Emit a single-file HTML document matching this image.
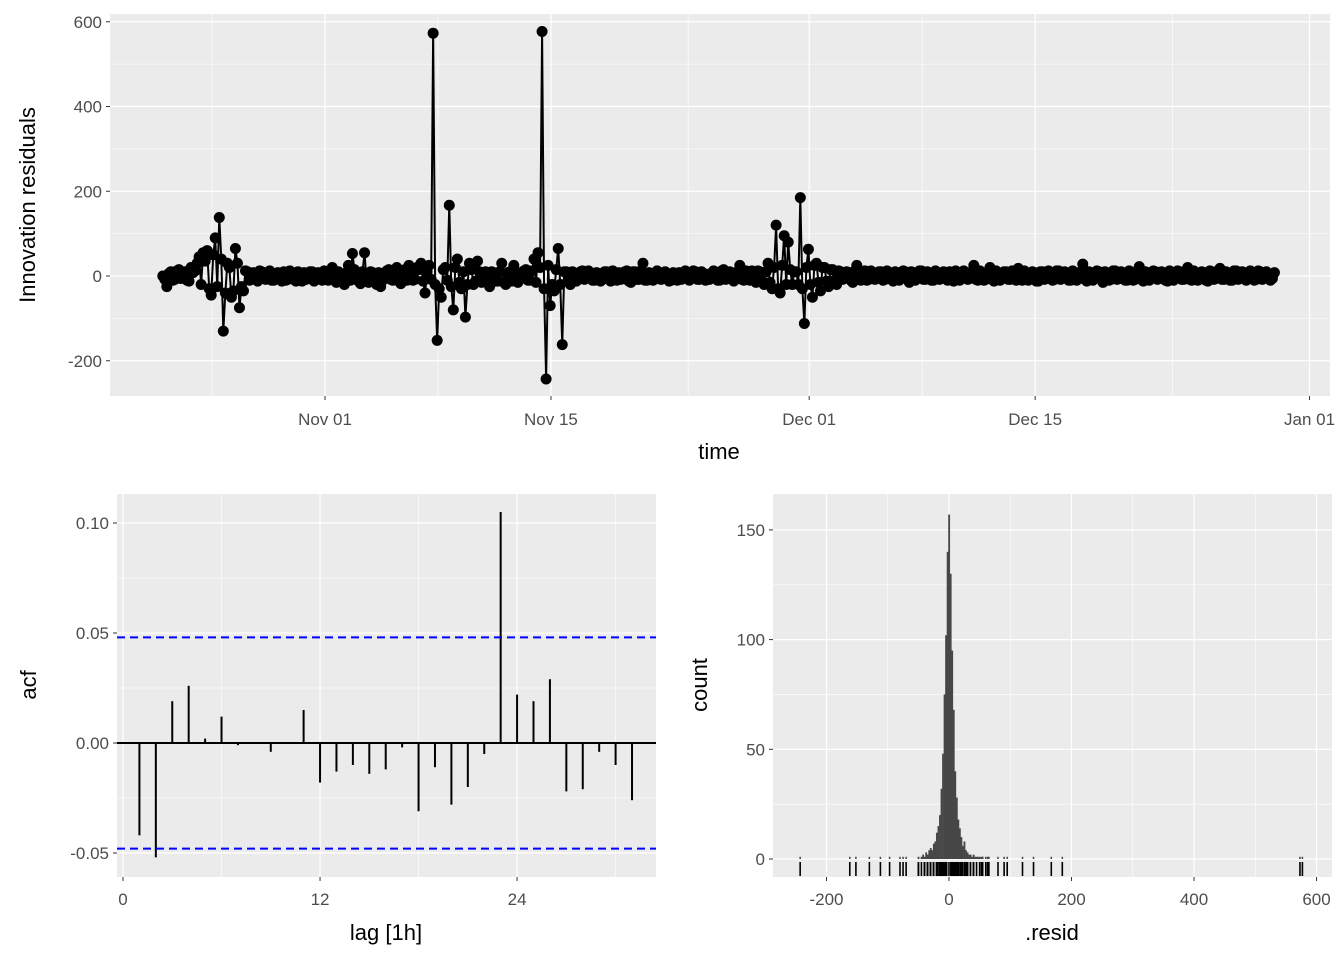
<!DOCTYPE html>
<html><head><meta charset="utf-8"><style>
body{margin:0;background:#fff}
svg text{font-family:"Liberation Sans",Arial,sans-serif}
.tick{font-size:17px;fill:#4D4D4D}
.title{font-size:22px;fill:#000}
</style></head><body>
<svg id="s" width="1344" height="960" xmlns="http://www.w3.org/2000/svg"></svg>
<script>
const resid = [
0,-25,10,-8,15,5,-10,20,12,45,
55,60,-45,90,138,-130,30,-50,65,-75,
-35,10,5,-8,12,-5,8,-10,5,-6,
10,-8,6,-12,5,8,-6,10,-5,3,
12,-10,20,-15,5,-20,25,53,10,-18,
55,-15,8,-20,-25,-5,15,-10,20,-18,
15,25,-10,20,30,-40,25,573,-152,-50,
20,167,-80,40,-30,-97,30,-20,35,-15,
10,-25,8,-12,30,-20,10,25,-15,5,
15,-10,40,55,577,-243,-70,-35,65,-162,
10,-20,5,-8,12,-5,8,-10,6,-4,
10,-12,5,8,-6,12,-15,10,-8,30,
-10,5,-7,8,-5,6,-10,4,8,-6,
5,-4,10,-8,6,4,-5,8,-10,15,
-6,8,-5,25,-10,5,12,-15,10,-20,
30,-30,120,-40,95,80,-20,10,185,-112,
63,-50,30,-35,20,-25,15,-20,10,-5,
8,-15,25,-10,12,-8,5,-6,10,-8,
6,-12,8,-5,10,-15,6,-4,12,-8,
5,-10,8,-6,4,10,-12,6,-5,8,
-6,25,-10,6,-8,20,-12,5,-6,10,
-8,4,18,-10,6,-5,8,-12,10,-6,
5,-8,12,-4,6,-10,8,-5,28,-12,
8,-6,10,-15,5,-8,12,-6,4,-10,
6,-8,22,-12,8,-5,10,-6,4,-12,
8,-5,10,-8,20,-10,6,-4,8,-12,
10,-6,18,-8,5,-10,12,-6,8,-4,
6,-8,10,-5,4,-6
];
const residMid = [
-8,6,-10,12,-6,10,-12,8,30,-20,
35,-30,50,-25,40,-40,20,-35,30,-25,
12,-10,8,-12,10,-8,12,-10,8,-12,
-10,12,-8,10,-12,-8,10,-12,8,-10,
-8,12,-10,10,-12,8,-10,15,-12,10,
-12,10,-12,8,-10,12,-8,10,-12,8,
-10,12,-8,15,-12,10,-8,-20,-30,15,
-10,-25,20,-15,10,-20,15,-12,10,-12,
-8,10,-12,10,-15,8,-12,10,-8,12,
-10,12,-15,20,-30,25,-20,15,-20,10,
-8,10,-12,10,-8,12,-10,8,-12,10,
-8,12,-10,-8,10,-12,10,-8,12,-10,
8,-10,12,-8,10,-12,8,-10,-8,12,
-10,12,-8,10,-10,-8,12,-10,12,-8,
10,-12,10,-8,12,-10,-8,12,-12,10,
-15,20,-30,25,-20,15,10,-20,-30,20,
-20,25,-15,20,-12,15,-10,12,-8,10,
-10,12,-8,10,-10,12,-8,10,-10,12,
-8,10,-10,12,-8,10,-10,12,-8,10,
-10,12,-8,10,-10,-8,12,-10,12,-8,
10,-8,12,-10,10,-8,12,-10,10,-8,
12,-10,-8,12,-10,10,-12,10,-8,12,
-10,12,-8,10,-10,12,-10,10,-8,10,
-10,12,-8,10,-10,12,-8,10,-10,12,
-10,12,-8,10,-10,12,-8,10,-10,12,
-10,12,-8,10,-8,12,-10,10,-10,12,
-8,12,-8,10,-10,12,-8,10,-10,12,
-10,12,-8,10,-10,8
];
const dayTicks = ["Nov 01","Nov 15","Dec 01","Dec 15","Jan 01"];
const dayTickDays = [0,14,30,44,61];
const residTicks = [-200,0,200,400,600];
const acfLags = [1,2,3,4,5,6,7,8,9,10,11,12,13,14,15,16,17,18,19,20,21,22,23,24,25,26,27,28,29,30,31];
const acfVals = [-0.042,-0.052,0.019,0.026,0.002,0.012,-0.001,0.0003,-0.004,0.0003,0.015,-0.018,-0.013,-0.010,-0.014,-0.012,-0.002,-0.031,-0.011,-0.028,-0.020,-0.005,0.105,0.022,0.019,0.029,-0.022,-0.021,-0.004,-0.010,-0.026];
const acfCI = 0.048;
const acfTicks = [-0.05,0.00,0.05,0.10];
const lagTicks = [0,12,24];
const binCenters = [-50,-47.5,-45,-42.5,-40,-37.5,-35,-32.5,-30,-27.5,-25,-22.5,-20,-17.5,-15,-12.5,-10,-7.5,-5,-2.5,0,2.5,5,7.5,10,12.5,15,17.5,20,22.5,25,27.5,30,32.5,35,37.5,40,42.5,45,47.5,50];
const binCounts = [1,0,1,2,1,3,2,4,5,4,7,8,12,15,20,32,48,75,102,140,157,130,95,68,40,28,18,14,10,6,8,4,3,2,2,1,2,1,1,1,1];
const countTicks = [0,50,100,150];
const residXTicks = [-200,0,200,400,600];

const S=document.getElementById('s');const NS='http://www.w3.org/2000/svg';
function el(t,a,p){const e=document.createElementNS(NS,t);for(const k in a)e.setAttribute(k,a[k]);(p||S).appendChild(e);return e;}
function txt(x,y,s,cls,anchor,p){const e=el('text',{x:x,y:y,class:cls,'text-anchor':anchor||'middle'},p);e.textContent=s;return e;}

// merged series: 3-hour spacing
const series=[];resid.forEach((v,i)=>{series.push(v);if(i<residMid.length)series.push(residMid[i]);});

// ---------- TOP ----------
const T={x0:110,x1:1330,y0:14,y1:396};
const tx=d=>325+d*16.14, ty=v=>276-v*84.75/200;
let g=el('g',{});
el('rect',{x:T.x0,y:T.y0,width:T.x1-T.x0,height:T.y1-T.y0,fill:'#EBEBEB'},g);
[-300,-100,100,300,500].forEach(v=>{const y=ty(v);if(y>T.y0&&y<T.y1)el('line',{x1:T.x0,x2:T.x1,y1:y,y2:y,stroke:'#fff','stroke-width':0.6},g);});
[-7,7,22.5,37,52.5].forEach(d=>el('line',{x1:tx(d),x2:tx(d),y1:T.y0,y2:T.y1,stroke:'#fff','stroke-width':0.6},g));
residTicks.forEach(v=>{const y=ty(v);el('line',{x1:T.x0,x2:T.x1,y1:y,y2:y,stroke:'#fff','stroke-width':1.2},g);el('line',{x1:T.x0-4,x2:T.x0,y1:y,y2:y,stroke:'#333','stroke-width':1},g);txt(T.x0-8,y+6,String(v),'tick','end',g);});
dayTicks.forEach((s,i)=>{const x=tx(dayTickDays[i]);el('line',{x1:x,x2:x,y1:T.y0,y2:T.y1,stroke:'#fff','stroke-width':1.2},g);el('line',{x1:x,x2:x,y1:T.y1,y2:T.y1+4,stroke:'#333'},g);txt(x,T.y1+29,s,'tick','middle',g);});
const t0=-10.05, step=0.125;
let pts=series.map((v,i)=>[tx(t0+i*step),ty(v)]);
let ln=el('polyline',{points:pts.map(p=>p.join(',')).join(' '),fill:'none',stroke:'#000','stroke-width':2},g);

pts.forEach(p=>{const c=el('circle',{cx:p[0],cy:p[1],r:5.5,fill:'#000'},g);});
txt(719,459,'time','title','middle');
let yt=txt(0,0,'Innovation residuals','title','middle');yt.setAttribute('transform','translate(35,205) rotate(-90)');

// ---------- ACF ----------
const A={x0:117,x1:656,y0:494,y1:877};
const ax=l=>123+l*16.42, ay=v=>743-v*2200;
let g2=el('g',{});
el('rect',{x:A.x0,y:A.y0,width:A.x1-A.x0,height:A.y1-A.y0,fill:'#EBEBEB'},g2);
[-0.025,0.025,0.075].forEach(v=>el('line',{x1:A.x0,x2:A.x1,y1:ay(v),y2:ay(v),stroke:'#fff','stroke-width':0.6},g2));
[6,18,30].forEach(l=>el('line',{x1:ax(l),x2:ax(l),y1:A.y0,y2:A.y1,stroke:'#fff','stroke-width':0.6},g2));
acfTicks.forEach(v=>{const y=ay(v);el('line',{x1:A.x0,x2:A.x1,y1:y,y2:y,stroke:'#fff','stroke-width':1.2},g2);el('line',{x1:A.x0-4,x2:A.x0,y1:y,y2:y,stroke:'#333'},g2);txt(A.x0-8,y+6,v.toFixed(2),'tick','end',g2);});
lagTicks.forEach(l=>{const x=ax(l);el('line',{x1:x,x2:x,y1:A.y0,y2:A.y1,stroke:'#fff','stroke-width':1.2},g2);el('line',{x1:x,x2:x,y1:A.y1,y2:A.y1+4,stroke:'#333'},g2);txt(x,A.y1+28,String(l),'tick','middle',g2);});
el('line',{x1:A.x0,x2:A.x1,y1:ay(0),y2:ay(0),stroke:'#000','stroke-width':2},g2);
acfLags.forEach((l,i)=>{const b=el('line',{x1:ax(l),x2:ax(l),y1:ay(0),y2:ay(acfVals[i]),stroke:'#000','stroke-width':2},g2);});
[acfCI,-acfCI].forEach(v=>{const d=el('line',{x1:A.x0,x2:A.x1,y1:ay(v),y2:ay(v),stroke:'#0000FF','stroke-width':2,'stroke-dasharray':'8,5'},g2);});
txt(386,940,'lag [1h]','title','middle');
let at=txt(0,0,'acf','title','middle');at.setAttribute('transform','translate(36,685) rotate(-90)');

// ---------- HIST ----------
const H={x0:773,x1:1332,y0:494,y1:877};
const hx=v=>949+v*122.5/200, hy=c=>859-c*109.7/50;
let g3=el('g',{});
el('rect',{x:H.x0,y:H.y0,width:H.x1-H.x0,height:H.y1-H.y0,fill:'#EBEBEB'},g3);
[25,75,125].forEach(c=>el('line',{x1:H.x0,x2:H.x1,y1:hy(c),y2:hy(c),stroke:'#fff','stroke-width':0.6},g3));
[-100,100,300,500].forEach(v=>el('line',{x1:hx(v),x2:hx(v),y1:H.y0,y2:H.y1,stroke:'#fff','stroke-width':0.6},g3));
countTicks.forEach(c=>{const y=hy(c);el('line',{x1:H.x0,x2:H.x1,y1:y,y2:y,stroke:'#fff','stroke-width':1.2},g3);el('line',{x1:H.x0-4,x2:H.x0,y1:y,y2:y,stroke:'#333'},g3);txt(H.x0-8,y+6,String(c),'tick','end',g3);});
residXTicks.forEach(v=>{const x=hx(v);el('line',{x1:x,x2:x,y1:H.y0,y2:H.y1,stroke:'#fff','stroke-width':1.2},g3);el('line',{x1:x,x2:x,y1:H.y1,y2:H.y1+4,stroke:'#333'},g3);txt(x,H.y1+28,String(v),'tick','middle',g3);});
const bw=2.5;
binCenters.forEach((c,i)=>{if(!binCounts[i])return;const r=el('rect',{x:hx(c-bw/2),y:hy(binCounts[i]),width:hx(c+bw/2)-hx(c-bw/2)+0.3,height:hy(0)-hy(binCounts[i]),fill:'#474747'},g3);});
series.forEach(v=>{if(Math.abs(v)>50){const r=el('rect',{x:hx(v-bw/2),y:hy(1),width:hx(v+bw/2)-hx(v-bw/2),height:hy(0)-hy(1),fill:'#474747'},g3);}});
series.forEach(v=>{const r=el('line',{x1:hx(v),x2:hx(v),y1:862,y2:876,stroke:'#000','stroke-width':1.6},g3);});
txt(1052,940,'.resid','title','middle');
let ct=txt(0,0,'count','title','middle');ct.setAttribute('transform','translate(707,685) rotate(-90)');
</script>
</body></html>
